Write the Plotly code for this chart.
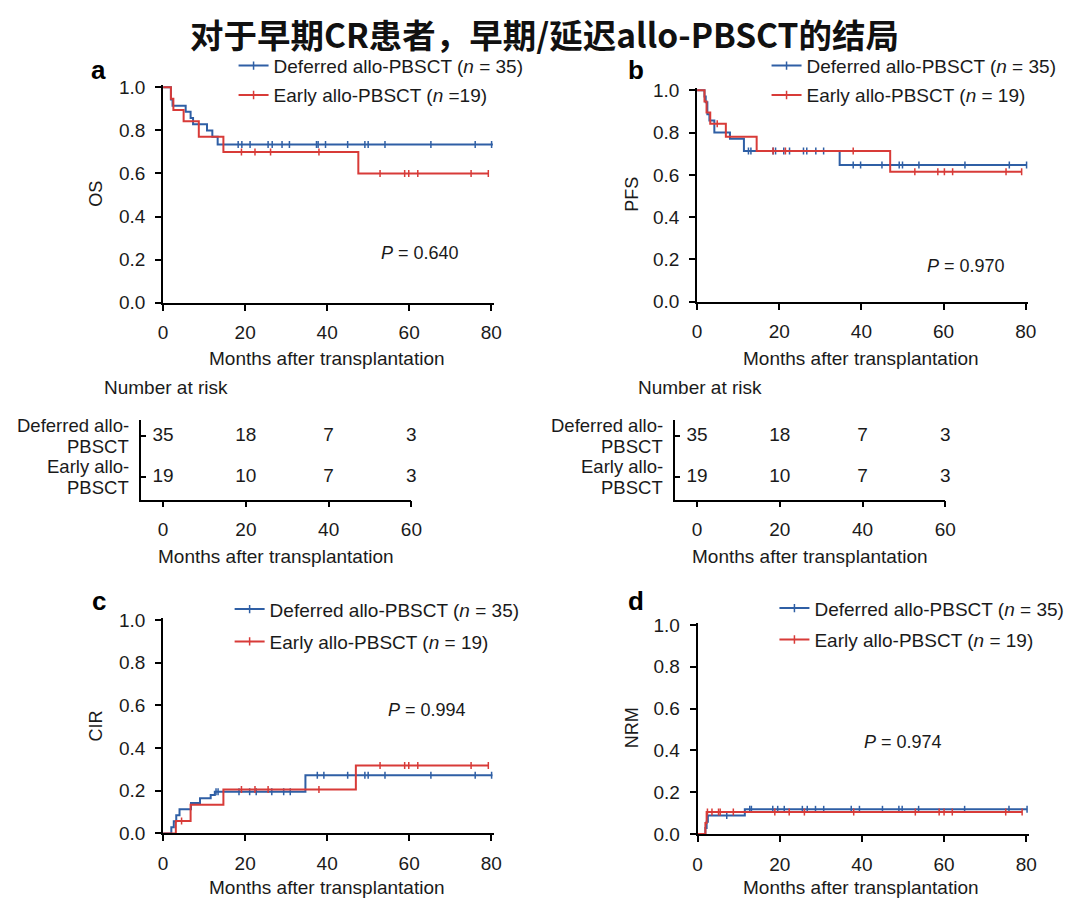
import numpy as np
import plotly.graph_objects as go

W, H = 1080, 915
BLUE = "#2f5fa5"
RED = "#d83b38"
FONT = "Liberation Sans"
INK = "#1a1a1a"

# ---------------- data ----------------
legend_def = "Deferred allo-PBSCT (<i>n</i> = 35)"
legend_early_a = "Early allo-PBSCT (<i>n</i> =19)"
legend_early = "Early allo-PBSCT (<i>n</i> = 19)"

# (a) OS
os_def_t = [0, 1.9, 2.3, 5.5, 6.7, 7.3, 10.7, 12.0, 13.3]
os_def_s = [1.0, 0.943, 0.914, 0.886, 0.857, 0.829, 0.800, 0.771, 0.735]
os_def_end = 80.4
os_def_cens = [18.3, 19.2, 21.2, 25.6, 26.6, 29.0, 30.8, 37.4, 37.8, 39.6, 45.0, 49.2, 50.0, 54.1, 65.3, 76.1, 80.1]
os_early_t = [0, 1.9, 2.5, 5.0, 8.7, 14.7, 47.6]
os_early_s = [1.0, 0.947, 0.895, 0.842, 0.770, 0.700, 0.600]
os_early_end = 79.3
os_early_cens = [19.1, 22.4, 26.2, 38.0, 52.9, 58.9, 59.9, 62.1, 75.1, 79.3]

# (b) PFS
pfs_def_t = [0, 1.8, 2.1, 2.5, 3.0, 4.2, 8.0, 11.4, 34.7]
pfs_def_s = [1.0, 0.971, 0.943, 0.886, 0.857, 0.800, 0.771, 0.713, 0.647]
pfs_def_end = 80.3
pfs_def_cens = [12.5, 13.1, 18.5, 19.1, 21.1, 22.5, 25.9, 26.7, 28.9, 30.8,
                38.0, 39.8, 45.0, 49.2, 50.0, 54.0, 65.2, 76.0, 80.2]
pfs_early_t = [0, 1.8, 2.3, 3.2, 7.0, 14.5, 47.0]
pfs_early_s = [1.0, 0.947, 0.895, 0.842, 0.780, 0.713, 0.615]
pfs_early_end = 79.0
pfs_early_cens = [4.9, 18.5, 21.5, 38.0, 53.0, 58.6, 60.2, 62.2, 75.2, 79.0]

# (c) CIR
cir_def_t = [0, 2.0, 2.6, 3.2, 4.0, 6.8, 9.0, 11.6, 12.6, 34.7]
cir_def_v = [0, 0.029, 0.057, 0.086, 0.114, 0.143, 0.165, 0.180, 0.195, 0.273]
cir_def_end = 80.3
cir_def_cens = [12.9, 13.4, 18.5, 21.1, 22.7, 26.5, 29.4, 31.0,
                37.6, 39.2, 45.0, 49.2, 50.0, 54.1, 65.3, 76.1, 80.1]
cir_early_t = [0, 3.1, 6.7, 14.7, 47.0]
cir_early_v = [0, 0.058, 0.135, 0.206, 0.318]
cir_early_end = 79.3
cir_early_cens = [4.5, 19.1, 22.4, 25.6, 38.0, 52.9, 58.9, 59.9, 62.1, 75.1, 79.3]

# (d) NRM
nrm_def_t = [0, 1.9, 2.2, 2.5, 11.5]
nrm_def_v = [0, 0.029, 0.058, 0.088, 0.118]
nrm_def_end = 80.2
nrm_def_cens = [7.1, 12.7, 13.1, 18.3, 19.5, 21.1, 25.5, 26.7, 28.7, 30.7, 37.4, 39.4,
                45.0, 49.0, 49.8, 53.8, 65.0, 75.8, 80.2]
nrm_early_t = [0, 1.9, 2.2]
nrm_early_v = [0, 0.053, 0.105]
nrm_early_end = 79.0
nrm_early_cens = [2.4, 3.5, 5.1, 5.5, 8.7, 18.8, 22.3, 26.0, 38.0, 53.0, 58.8, 60.0, 62.0, 75.0, 79.0]

p_values = ["0.640", "0.970", "0.994", "0.974"]
y_titles = ["OS", "PFS", "CIR", "NRM"]
panel_letters = ["a", "b", "c", "d"]

# number at risk
risk_times = [0, 20, 40, 60]
risk_def = [35, 18, 7, 3]
risk_early = [19, 10, 7, 3]
risk_row_lines = [["Deferred allo-", "PBSCT"], ["Early allo-", "PBSCT"]]

x_ticks = [0, 20, 40, 60, 80]
y_ticks = [0, 0.2, 0.4, 0.6, 0.8, 1.0]
title_text = "对于早期CR患者，早期/延迟allo-PBSCT的结局"
x_title = "Months after transplantation"

# ---------------- helpers ----------------
def fx(p):
    return p / W

def fy(p):
    return 1 - p / H

def step_at(t, v, ct):
    idx = np.searchsorted(np.array(t), np.array(ct), side="right") - 1
    return [v[i] for i in idx]

def ann(x, y, text, size, xanchor="center", yanchor="middle", **kw):
    return dict(x=fx(x), y=fy(y), xref="paper", yref="paper", text=text,
                showarrow=False, xanchor=xanchor, yanchor=yanchor,
                font=dict(family=kw.pop("family", FONT), size=size,
                          color=kw.pop("color", INK), weight=kw.pop("weight", "normal")),
                **kw)

fig = go.Figure()

panels = [
    dict(n="", x0=160.5, xs=4.1625, y0=301, ys=220,
         series=[(os_def_t, os_def_s, os_def_end, os_def_cens, BLUE),
                 (os_early_t, os_early_s, os_early_end, os_early_cens, RED)],
         leg=[(272, 60, legend_def, BLUE), (272, 90, legend_early_a, RED)],
         p=(421, 250), ytitle=(92, 190), xtitle=(327, 358), letter=(95, 63)),
    dict(n="2", x0=702.5, xs=4.17, y0=300, ys=216,
         series=[(pfs_def_t, pfs_def_s, pfs_def_end, pfs_def_cens, BLUE),
                 (pfs_early_t, pfs_early_s, pfs_early_end, pfs_early_cens, RED)],
         leg=[(813, 60, legend_def, BLUE), (813, 90, legend_early, RED)],
         p=(975, 263), ytitle=(636, 190), xtitle=(869, 358), letter=(640, 63)),
    dict(n="3", x0=160.5, xs=4.1625, y0=843, ys=218,
         series=[(cir_def_t, cir_def_v, cir_def_end, cir_def_cens, BLUE),
                 (cir_early_t, cir_early_v, cir_early_end, cir_early_cens, RED)],
         leg=[(268, 615, legend_def, BLUE), (268, 648, legend_early, RED)],
         p=(428, 717), ytitle=(92, 733), xtitle=(327, 898), letter=(95, 606)),
    dict(n="4", x0=703, xs=4.17, y0=843.5, ys=213.5,
         series=[(nrm_def_t, nrm_def_v, nrm_def_end, nrm_def_cens, BLUE),
                 (nrm_early_t, nrm_early_v, nrm_early_end, nrm_early_cens, RED)],
         leg=[(821, 614, legend_def, BLUE), (821, 646, legend_early, RED)],
         p=(911, 750), ytitle=(636, 735), xtitle=(869, 898), letter=(640, 606)),
]

axis_common = dict(showgrid=False, zeroline=False, showline=True, linecolor="black",
                   linewidth=1.8, ticks="outside", ticklen=6, tickwidth=1.5,
                   tickcolor="black", tickfont=dict(family=FONT, size=19, color=INK))

annotations = []
legend_idx = 1
layout_extra = {}
XMAX = 80.6
YMAX = 1.01
LEG_DY = -1
for i, pn in enumerate(panels):
    n = pn["n"]
    xa, ya = "x" + n, "y" + n
    xdom = [fx(pn["x0"]), fx(pn["x0"] + XMAX * pn["xs"])]
    ydom = [fy(pn["y0"]), fy(pn["y0"] - YMAX * pn["ys"])]
    layout_extra["xaxis" + n] = dict(axis_common, domain=xdom, range=[0, XMAX], anchor=ya,
                                     tickvals=x_ticks, ticklabelstandoff=6)
    layout_extra["yaxis" + n] = dict(axis_common, domain=ydom, range=[0, YMAX], anchor=xa,
                                     tickvals=y_ticks, tickformat=".1f",
                                     ticklabelstandoff=6)
    for (t, v, end, cens, col), (lx, ly, lname, lcol) in zip(pn["series"], pn["leg"]):
        fig.add_trace(go.Scatter(x=list(t) + [end], y=list(v) + [v[-1]], mode="lines",
                                 line=dict(color=col, width=2, shape="hv"),
                                 xaxis=xa, yaxis=ya, showlegend=False, hoverinfo="skip"))
        fig.add_trace(go.Scatter(x=cens, y=step_at(t, v, cens), mode="markers",
                                 marker=dict(symbol="line-ns-open", size=5, color=col,
                                             line=dict(color=col, width=1.5)),
                                 xaxis=xa, yaxis=ya, showlegend=False, hoverinfo="skip"))
        lid = "legend" if legend_idx == 1 else f"legend{legend_idx}"
        fig.add_trace(go.Scatter(x=[None], y=[None], mode="lines+markers", name=lname,
                                 line=dict(color=lcol, width=2),
                                 marker=dict(symbol="line-ns-open", size=6, color=lcol,
                                             line=dict(color=lcol, width=1.5)),
                                 xaxis=xa, yaxis=ya, showlegend=True, legend=lid))
        layout_extra[lid] = dict(x=fx(lx - 40), y=fy(ly + LEG_DY), xanchor="left",
                                 yanchor="middle", bgcolor="rgba(0,0,0,0)", borderwidth=0,
                                 font=dict(family=FONT, size=19, color=INK),
                                 itemwidth=30, tracegroupgap=0)
        legend_idx += 1
    annotations.append(ann(*pn["p"], f"<i>P</i> = {p_values[i]}", 18))
    annotations.append(ann(*pn["ytitle"], y_titles[i], 18, textangle=-90))
    annotations.append(ann(*pn["xtitle"], x_title, 19))
    annotations.append(ann(*pn["letter"], panel_letters[i], 26, weight="bold", color="black",
                           borderpad=0))

# number-at-risk tables
risk_panels = [
    dict(n="5", axis_x=138, x0=160.5, xs=4.2, yrow1=437, yrow0=479, ybot=502, ytop=421,
         label_x=127, head=(98, 388), xtitle=(275, 560)),
    dict(n="6", axis_x=680, x0=702.5, xs=4.2, yrow1=437, yrow0=479, ybot=502, ytop=421,
         label_x=669, head=(640, 388), xtitle=(817, 560)),
]
for rp in risk_panels:
    n = rp["n"]
    xa, ya = "x" + n, "y" + n
    xmin = (rp["axis_x"] - rp["x0"]) / rp["xs"]
    xdom = [fx(rp["axis_x"]), fx(rp["x0"] + 60 * rp["xs"])]
    yu = rp["yrow0"] - rp["yrow1"]
    ymin = -(rp["ybot"] - rp["yrow0"]) / yu
    ymax = 1 + (rp["yrow1"] - rp["ytop"]) / yu
    layout_extra["xaxis" + n] = dict(axis_common, domain=xdom, range=[xmin, 60], anchor=ya,
                                     tickvals=risk_times, ticklabelstandoff=6)
    layout_extra["yaxis" + n] = dict(axis_common, domain=[fy(rp["ybot"]), fy(rp["ytop"])],
                                     range=[ymin, ymax], anchor=xa, tickvals=[1, 0],
                                     showticklabels=False, ticks="inside", ticklen=5)
    for yrow, vals in ((1, risk_def), (0, risk_early)):
        fig.add_trace(go.Scatter(x=risk_times, y=[yrow] * len(risk_times), mode="text",
                                 text=[str(v) for v in vals], xaxis=xa, yaxis=ya,
                                 textfont=dict(family=FONT, size=19, color=INK),
                                 cliponaxis=False, showlegend=False, hoverinfo="skip"))
    for row_y, lines in ((rp["yrow1"], risk_row_lines[0]), (rp["yrow0"], risk_row_lines[1])):
        annotations.append(ann(rp["label_x"], row_y - 10.5, lines[0], 18.5, xanchor="right",
                               borderpad=0))
        annotations.append(ann(rp["label_x"], row_y + 10.5, lines[1], 18.5, xanchor="right",
                               borderpad=0))
    annotations.append(ann(*rp["head"], "Number at risk", 19, xanchor="left"))
    annotations.append(ann(*rp["xtitle"], x_title, 19))

annotations.append(ann(548, 0, title_text, 33.5, yanchor="top", family="Noto Sans CJK SC",
                       weight="bold", color="#111", borderpad=0))

fig.update_layout(width=W, height=H, margin=dict(l=0, r=0, t=0, b=0),
                  paper_bgcolor="white", plot_bgcolor="white",
                  annotations=annotations, **layout_extra)

fig.write_html("out.html", config={"displayModeBar": False},
               post_script="document.body.style.margin='0px';")
